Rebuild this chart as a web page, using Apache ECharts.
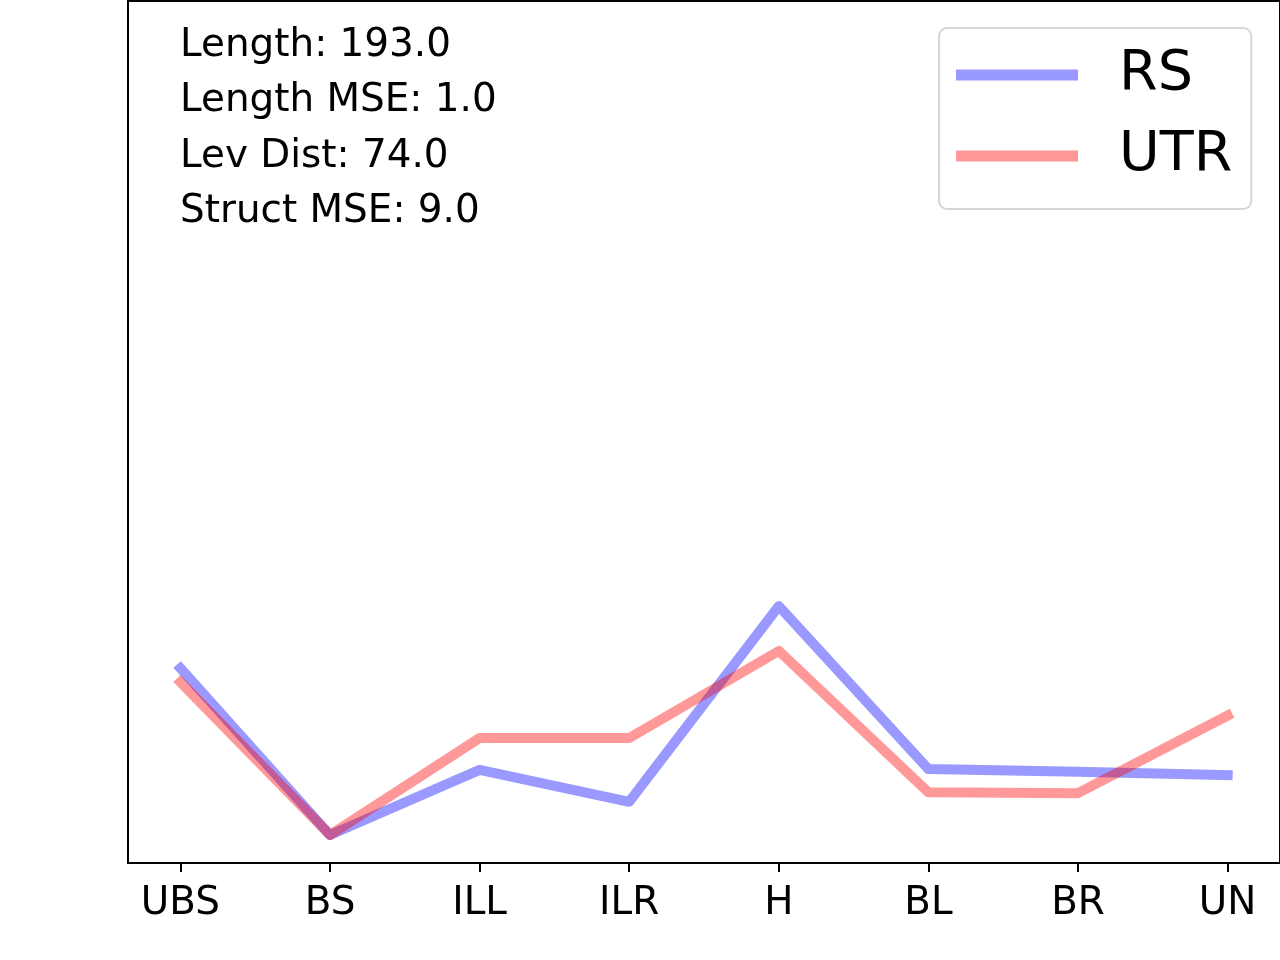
<!DOCTYPE html>
<html>
<head>
<meta charset="utf-8">
<script src="https://cdn.jsdelivr.net/npm/echarts@6/dist/echarts.min.js"></script>
<style>
html,body{margin:0;padding:0;background:#fff;}
#chart{width:1280px;height:960px;}
</style>
</head>
<body>
<div id="chart"></div>
<script>
const categories = ['UBS', 'BS', 'ILL', 'ILR', 'H', 'BL', 'BR', 'UN'];
const rsValues = [22.6, 3.25, 10.8, 7.1, 29.8, 10.9, 10.6, 10.2];
const utrValues = [21.0, 3.25, 14.5, 14.5, 24.6, 8.2, 8.1, 17.1];
const infoLines = ['Length: 193.0', 'Length MSE: 1.0', 'Lev Dist: 74.0', 'Struct MSE: 9.0'];
const tickPositions = categories.map((c, i) => i);

const font = 'DejaVu Sans';
const chart = echarts.init(document.getElementById('chart'), null, {renderer: 'canvas'});

const toPairs = arr => arr.map((v, i) => [i, v]);

const option = {
  animation: false,
  backgroundColor: '#ffffff',
  grid: {
    left: 128, right: 0, top: 1, bottom: 97,
    show: true, borderColor: '#000', borderWidth: 2, backgroundColor: 'transparent'
  },
  xAxis: {
    type: 'value',
    min: -0.35, max: 7.35,
    axisLine: {show: true, onZero: false, lineStyle: {color: '#000', width: 2}},
    axisTick: {show: true, length: 9, customValues: tickPositions, lineStyle: {color: '#000', width: 2}},
    axisLabel: {
      show: true, customValues: tickPositions,
      formatter: v => categories[Math.round(v)] || '',
      fontFamily: font, fontSize: 38.9, color: '#000', margin: 21
    },
    splitLine: {show: false}
  },
  yAxis: {
    type: 'value',
    min: 0, max: 100,
    axisLine: {show: false, onZero: false},
    axisTick: {show: false},
    axisLabel: {show: false},
    splitLine: {show: false}
  },
  legend: {
    orient: 'vertical',
    left: 939, top: 28,
    padding: [18, 19, 24, 17],
    itemGap: 23,
    itemWidth: 122, itemHeight: 11,
    icon: 'rect',
    backgroundColor: '#fff',
    borderColor: '#d6d6d6', borderWidth: 2, borderRadius: 8,
    textStyle: {fontFamily: font, fontSize: 55.6, color: '#000', lineHeight: 56, padding: [2, 0, 0, 36]},
    data: ['RS', 'UTR']
  },
  graphic: infoLines.map((t, i) => ({
    type: 'text',
    left: 180,
    top: 26 + i * 55.5,
    style: {text: t, fontFamily: font, fontSize: 38.9, fill: '#000'}
  })),
  series: [
    {
      name: 'RS', type: 'line', data: toPairs(rsValues),
      symbol: 'none', color: 'rgba(0,0,255,0.4)',
      lineStyle: {width: 10, color: 'rgba(0,0,255,0.4)', cap: 'square', join: 'round'}
    },
    {
      name: 'UTR', type: 'line', data: toPairs(utrValues),
      symbol: 'none', color: 'rgba(255,0,0,0.4)',
      lineStyle: {width: 10, color: 'rgba(255,0,0,0.4)', cap: 'square', join: 'round'}
    }
  ]
};
chart.setOption(option);
</script>
</body>
</html>
